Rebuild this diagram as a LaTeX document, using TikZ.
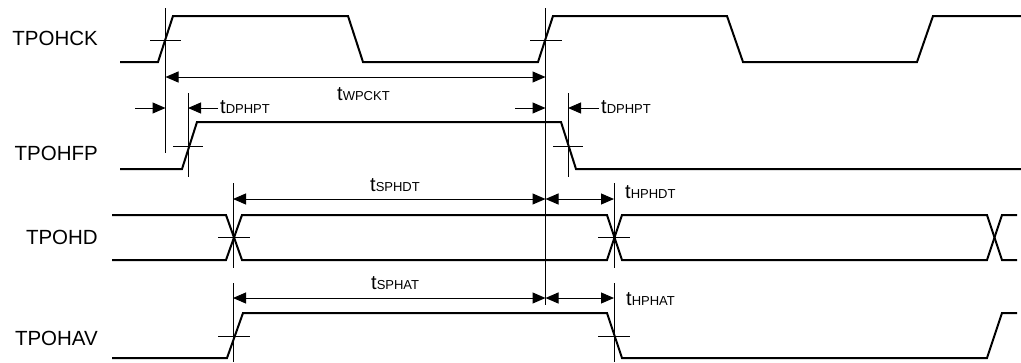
\documentclass[tikz,border=0pt]{standalone}
\usepackage{fontspec}
\setmainfont{Liberation Sans}
\usetikzlibrary{arrows.meta}
\begin{document}
\begin{tikzpicture}[x=1pt,y=-1pt,
  sig/.style={line width=2pt, line join=miter},
  refl/.style={line width=1pt},
  dimarr/.style={line width=1pt, {Triangle[length=13pt,width=11pt]}-{Triangle[length=13pt,width=11pt]}},
  onearr/.style={line width=1pt, -{Triangle[length=13pt,width=11pt]}},
  signame/.style={anchor=east, inner sep=0pt, font=\fontsize{20.5}{24}\selectfont},
  tlabel/.style={anchor=base west, inner sep=0pt, font=\fontsize{20}{24}\selectfont}
]
\useasboundingbox (0,0) rectangle (1021,362);
\newcommand{\tsub}[1]{t{\fontsize{13}{15}\selectfont #1}}

% signal names
\node[signame] (nck) at (98,38) {TPOHCK};
\node[signame] (nfp) at (98,153) {TPOHFP};
\node[signame] (nhd) at (98,237) {TPOHD};
\node[signame] (nav) at (98,338) {TPOHAV};

% waveforms
\draw[sig] (120,62) -- (158,62) -- (173,16) -- (348,16) -- (363,62) -- (538,62) -- (553,16) -- (727,16) -- (743,62) -- (917,62) -- (933,16) -- (1021,16);
\draw[sig] (120,169) -- (182,169) -- (197,122) -- (561,122) -- (576,169) -- (1021,169);
\draw[sig] (112,215) -- (226,215) -- (242,260) -- (607,260) -- (622,215) -- (987,215) -- (1002,260) -- (1017,260);
\draw[sig] (112,260) -- (226,260) -- (242,215) -- (607,215) -- (622,260) -- (987,260) -- (1002,215) -- (1017,215);
\draw[sig] (112,358) -- (227,358) -- (243,313) -- (607,313) -- (622,358) -- (987,358) -- (1002,313) -- (1017,313);

% reference lines
\draw[refl] (165.5,8) -- (165.5,153);
\draw[refl] (545.5,8) -- (545.5,305);
\draw[refl] (188,93) -- (188,177);
\draw[refl] (568,93) -- (568,177);
\draw[refl] (233,183) -- (233,268);
\draw[refl] (233,283) -- (233,362);
\draw[refl] (614,183) -- (614,268);
\draw[refl] (614,283) -- (614,362);

% crossing marks
\draw[refl] (150,40) -- (181,40);
\draw[refl] (530,40) -- (562,40);
\draw[refl] (173,146) -- (203,146);
\draw[refl] (553,146) -- (583,146);
\draw[refl] (218,237) -- (250,237);
\draw[refl] (598,237) -- (630,237);
\draw[refl] (218,336) -- (250,336);
\draw[refl] (598,336) -- (630,336);

% dimension end points
\coordinate (wa) at (165.5,77);
\coordinate (wb) at (545.5,77);
\coordinate (d1s) at (135,108);
\coordinate (d1a) at (165.5,108);
\coordinate (d1t) at (218,108);
\coordinate (d1b) at (188,108);
\coordinate (d2s) at (515,108);
\coordinate (d2a) at (545.5,108);
\coordinate (d2t) at (599,108);
\coordinate (d2b) at (568,108);
\coordinate (sa) at (233,199);
\coordinate (sb) at (545.5,199);
\coordinate (hb) at (614,199);
\coordinate (va) at (233,298);
\coordinate (vb) at (545.5,298);
\coordinate (vc) at (614,298);

\draw[dimarr] (wa) -- (wb);
\draw[onearr] (d1s) -- (d1a);
\draw[onearr] (d1t) -- (d1b);
\draw[onearr] (d2s) -- (d2a);
\draw[onearr] (d2t) -- (d2b);
\draw[dimarr] (sa) -- (sb);
\draw[dimarr] (sb) -- (hb);
\draw[dimarr] (va) -- (vb);
\draw[dimarr] (vb) -- (vc);

% timing labels
\node[tlabel] (lw) at (337,100) {\tsub{WPCKT}};
\node[tlabel] (ld1) at (220,113) {\tsub{DPHPT}};
\node[tlabel] (ld2) at (601,113) {\tsub{DPHPT}};
\node[tlabel] (ls) at (370,191) {\tsub{SPHDT}};
\node[tlabel] (lh) at (625,198) {\tsub{HPHDT}};
\node[tlabel] (lsa) at (371,289) {\tsub{SPHAT}};
\node[tlabel] (lha) at (626,305) {\tsub{HPHAT}};
\end{tikzpicture}
\end{document}
